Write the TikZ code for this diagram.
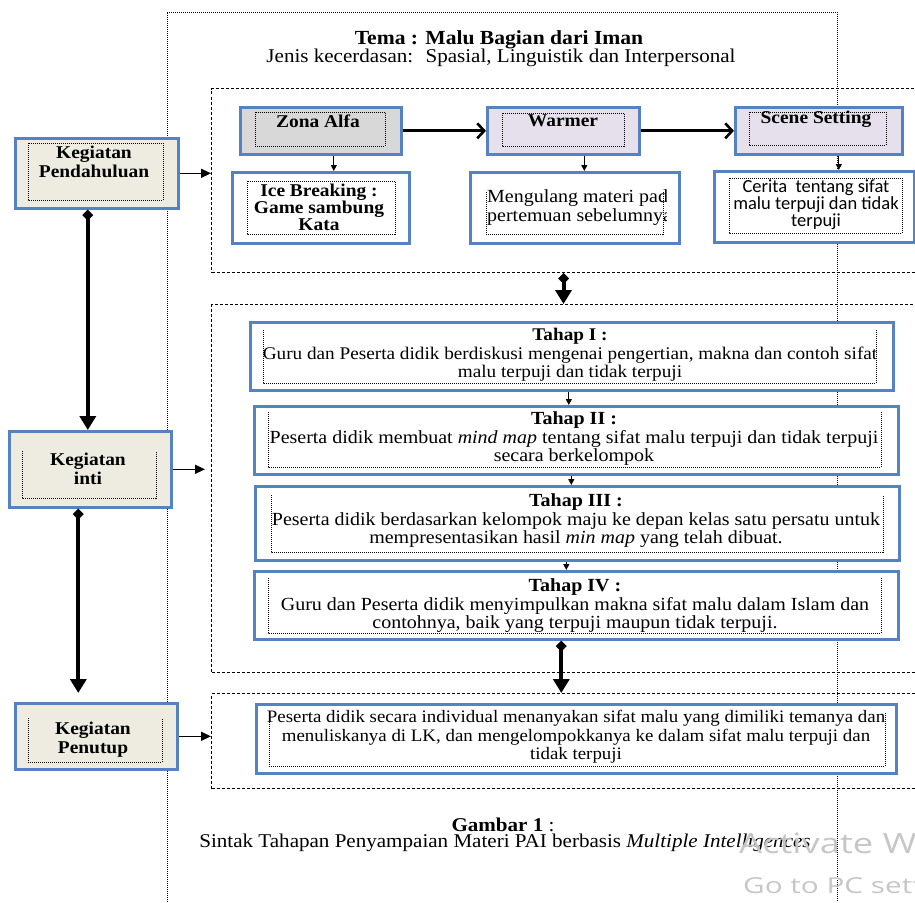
\documentclass[tikz,border=0pt]{standalone}
\usepackage{graphicx}
\usepackage{fontspec}
\setmainfont{Liberation Serif}[FakeStretch=1.08]
\newfontfamily\calib{Carlito}
\newfontfamily\wmfont{Open Sans}
\usetikzlibrary{arrows.meta}
\definecolor{bordblue}{RGB}{84,130,195}
\definecolor{beige}{RGB}{238,236,225}
\definecolor{greyfill}{RGB}{216,216,216}
\definecolor{lavender}{RGB}{229,224,236}
\definecolor{wmgray}{RGB}{198,198,198}
\tikzset{
  bluebox/.style={draw=bordblue, line width=2.6pt, rectangle, inner sep=0pt, anchor=north west},
  innerdot/.style={draw=black, line width=1pt, dash pattern=on 1pt off 1pt},
  grp/.style={draw=black, line width=1pt, dash pattern=on 3pt off 2pt, rectangle, inner sep=0pt, anchor=north west},
  framedot/.style={draw=black, line width=1pt, dash pattern=on 1pt off 1pt},
  txt/.style={align=center, inner sep=0pt, font=\fontsize{18.5}{18.5}\selectfont},
  btxt/.style={align=center, inner sep=0pt, font=\fontsize{18}{19}\selectfont\bfseries},
  thickarr/.style={line width=2.8pt, -{Straight Barb[length=7pt,width=15pt,line width=2.6pt]}},
  thinarr/.style={line width=1.2pt, -{Triangle[length=6pt,width=6pt]}},
  medarr/.style={line width=1.5pt, -{Triangle[length=10pt,width=9pt]}},
  bigarr/.style={line width=4pt, {Diamond[length=11pt,width=11pt]}-{Triangle[length=14pt,width=16pt]}},
}
\begin{document}
\begin{tikzpicture}[x=1pt,y=-1pt]
\useasboundingbox (0,0) rectangle (915,902);
\clip (0,0) rectangle (915,902);

% outer dotted frame
\draw[framedot] (167,902) -- (167,12) -- (837,12) -- (837,902);

% title
\node[btxt, font=\fontsize{20}{20}\selectfont\bfseries] (title1) at (499,40) {Tema : Malu Bagian dari Iman};
\node[txt, font=\fontsize{19.5}{19.5}\selectfont] (title2) at (501,58) {Jenis kecerdasan:~ Spasial, Linguistik dan Interpersonal};

% groups
\node[grp, minimum width=719, minimum height=184] (grp1) at (211,88) {};
\node[grp, minimum width=719, minimum height=368] (grp2) at (211,304) {};
\node[grp, minimum width=719, minimum height=95] (grp3) at (211,693) {};

% left boxes
\node[bluebox, fill=beige, minimum width=163, minimum height=70] (pend) at (14,137) {};
\draw[innerdot] (28,143) rectangle (163,200);
\node[btxt] (pendt) at (94,162) {Kegiatan\\Pendahuluan};

\node[bluebox, fill=beige, minimum width=162, minimum height=76] (inti) at (8,430) {};
\draw[innerdot] (22,451) -- (22,498) -- (156,498) -- (156,451);
\node[btxt] (intit) at (88,469) {Kegiatan\\inti};

\node[bluebox, fill=beige, minimum width=162, minimum height=66] (penu) at (14,702) {};
\draw[innerdot] (28,718) -- (28,762) -- (162,762) -- (162,718);
\node[btxt] (penut) at (93,740) {Kegiatan\\Penutup};

% group 1 boxes
\node[bluebox, fill=greyfill, minimum width=161, minimum height=47] (zona) at (239,106) {};
\draw[innerdot] (255,112) rectangle (385,146);
\node[btxt] (zonat) at (318,121) {Zona Alfa};

\node[bluebox, fill=lavender, minimum width=152, minimum height=47] (warm) at (486,106) {};
\draw[innerdot] (502,113) rectangle (624,146);
\node[btxt] (warmt) at (563,121) {Warmer};

\node[bluebox, fill=lavender, minimum width=167, minimum height=47] (scene) at (734,106) {};
\draw[innerdot] (749,112) rectangle (886,145);
\node[btxt] (scenet) at (816,119) {Scene Setting};

\node[bluebox, fill=white, minimum width=177, minimum height=71] (ice) at (231,171) {};
\draw[innerdot] (247,181) rectangle (395,234);
\node[btxt, font=\fontsize{18}{17}\selectfont\bfseries] (icet) at (319,207) {Ice Breaking :\\Game sambung\\Kata};

\node[bluebox, fill=white, minimum width=209, minimum height=71] (meng) at (469,171) {};
\draw[innerdot] (486,192) -- (486,234) -- (663,234) -- (663,192);
\begin{scope}
\clip (480,175) rectangle (666,240);
\node[txt, align=left, anchor=west, font=\fontsize{18.5}{19}\selectfont] (mengt) at (487,208) {Mengulang materi pada\\pertemuan sebelumnya};
\end{scope}

\node[bluebox, fill=white, minimum width=200, minimum height=71] (cer) at (713,170) {};
\draw[innerdot] (729,178) rectangle (902,233);
\node[txt, font=\fontsize{18.5}{17}\calib] (cert) at (816,205) {Cerita~ tentang sifat\\malu terpuji dan tidak\\terpuji};

% group 2 boxes
\node[bluebox, fill=white, minimum width=643, minimum height=68] (t1) at (249,321) {};
\draw[innerdot] (263,330) -- (263,383) -- (876,383) -- (876,330);
\node[txt, font=\fontsize{17.8}{18.5}\selectfont] (t1t) at (570,355) {\textbf{Tahap I :}\\Guru dan Peserta didik berdiskusi mengenai pengertian, makna dan contoh sifat\\malu terpuji dan tidak terpuji};

\node[bluebox, fill=white, minimum width=644, minimum height=68] (t2) at (253,405) {};
\draw[innerdot] (268,412) -- (268,467) -- (881,467) -- (881,412);
\node[txt] (t2t) at (574,439) {\textbf{Tahap II :}\\Peserta didik membuat \textit{mind map} tentang sifat malu terpuji dan tidak terpuji\\secara berkelompok};

\node[bluebox, fill=white, minimum width=644, minimum height=74] (t3) at (254,485) {};
\draw[innerdot] (271,495) -- (271,552) -- (883,552) -- (883,495);
\node[txt] (t3t) at (576,521) {\textbf{Tahap III :}\\Peserta didik berdasarkan kelompok maju ke depan kelas satu persatu untuk\\mempresentasikan hasil \textit{min map} yang telah dibuat.};

\node[bluebox, fill=white, minimum width=644, minimum height=68] (t4) at (253,570) {};
\draw[innerdot] (268,578) -- (268,633) -- (881,633) -- (881,578);
\node[txt] (t4t) at (575,606) {\textbf{Tahap IV :}\\Guru dan Peserta didik menyimpulkan makna sifat malu dalam Islam dan\\contohnya, baik yang terpuji maupun tidak terpuji.};

% group 3 box
\node[bluebox, fill=white, minimum width=640, minimum height=69] (fin) at (255,703) {};
\draw[innerdot] (269,712) -- (269,766) -- (885,766) -- (885,712);
\node[txt, font=\fontsize{17.5}{18.5}\selectfont] (fint) at (576,737) {Peserta didik secara individual menanyakan sifat malu yang dimiliki temanya dan\\menuliskanya di LK, dan mengelompokkanya ke dalam sifat malu terpuji dan\\tidak terpuji};

% caption
\node[txt, font=\fontsize{19.5}{19.5}\selectfont] (cap1) at (503,825) {\textbf{Gambar 1} :};
\node[txt, font=\fontsize{19.5}{19.5}\selectfont] (cap2) at (505,843) {Sintak Tahapan Penyampaian Materi PAI berbasis \textit{Multiple Intelligences}};

% watermark
\node[anchor=base west, inner sep=0pt, text=wmgray, font=\fontsize{28}{28}\wmfont] (wm1) at (739,853) {\scalebox{1.3}[1]{Activate W}};
\node[anchor=base west, inner sep=0pt, text=wmgray, font=\fontsize{22}{22}\wmfont] (wm2) at (743,893) {\scalebox{1.35}[1]{Go to PC sett}};

% connectors
\draw[thickarr] (zona.east) -- (warm.west);
\draw[thickarr] (warm.east) -- (scene.west);
\draw[thinarr] ([xshift=13pt]zona.south) -- ([xshift=13pt]zona.south |- ice.north);
\draw[thinarr] ([xshift=21pt]warm.south) -- ([xshift=21pt]warm.south |- meng.north);
\draw[thinarr] ([xshift=20pt]scene.south) -- ([xshift=20pt]scene.south |- cer.north);
\draw[thinarr] ([xshift=-3pt]t1.south) -- ([xshift=-3pt]t1.south |- t2.north);
\draw[thinarr] ([xshift=-5pt]t2.south) -- ([xshift=-5pt]t2.south |- t3.north);
\draw[thinarr] ([xshift=-11pt]t3.south) -- ([xshift=-11pt]t3.south |- t4.north);

\draw[medarr] (pend.east) -- (pend.east -| grp1.west);
\draw[medarr] (inti.east) -- ([xshift=-6pt]inti.east -| grp2.west);
\draw[medarr] (penu.east) -- (penu.east -| grp3.west);

\draw[bigarr] ([xshift=-9pt]pend.south) -- ([xshift=-9pt]pend.south |- inti.north);
\draw[bigarr] ([xshift=-12pt]inti.south) -- ([xshift=-12pt,yshift=9pt]inti.south |- penu.north);
\draw[bigarr] ([xshift=-7.5pt]grp1.south) -- ([xshift=-7.5pt]grp2.north);
\draw[bigarr] ([xshift=-15pt]t4.south) -- ([xshift=-15pt]t4.south |- grp3.north);
\end{tikzpicture}
\end{document}
